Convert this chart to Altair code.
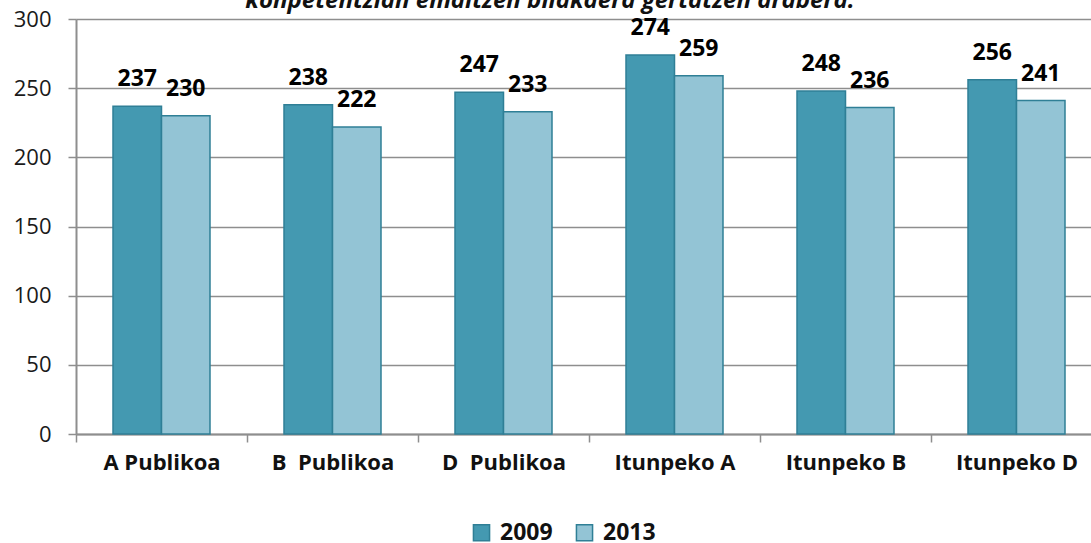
import altair as alt
import pandas as pd

# Mean scores per school model, 2009 vs 2013
categories = ["A Publikoa", "B\u00a0 Publikoa", "D\u00a0 Publikoa",
              "Itunpeko A", "Itunpeko B", "Itunpeko D"]
years = ["2009", "2013"]
values_2009 = [237, 238, 247, 274, 248, 256]
values_2013 = [230, 222, 233, 259, 236, 241]
y_ticks = [0, 50, 100, 150, 200, 250, 300]
year_colors = ["#4499b1", "#93c4d5"]
heading = "konpetentzian emaitzen bilakaera gertatzen arabera."

rows = []
for cat, v09, v13 in zip(categories, values_2009, values_2013):
    rows.append({"eredua": cat, "urtea": years[0], "balioa": v09})
    rows.append({"eredua": cat, "urtea": years[1], "balioa": v13})
df = pd.DataFrame(rows)

FONT = "Open Sans"
GRID = "#8e8e8e"

x_enc = alt.X(
    "eredua:N",
    sort=categories,
    title=None,
    scale=alt.Scale(range=[0, 1026], paddingInner=0, paddingOuter=0),
    axis=alt.Axis(
        tickBand="extent",
        labelAngle=0,
        labelFont=FONT,
        labelFontSize=22,
        labelFontWeight="bold",
        labelColor="#111111",
        labelPadding=10,
        tickSize=8,
        tickColor=GRID,
        tickWidth=1.5,
        domainColor=GRID,
        domainWidth=2,
        grid=False,
    ),
)
xoff_enc = alt.XOffset("urtea:N", sort=years,
                       scale=alt.Scale(paddingOuter=0.763, paddingInner=0))
y_enc = alt.Y(
    "balioa:Q",
    title=None,
    scale=alt.Scale(domain=[0, 300], nice=False),
    axis=alt.Axis(
        values=y_ticks,
        labelFont=FONT,
        labelFontSize=22,
        labelColor="#1a1a1a",
        labelPadding=17,
        tickSize=8,
        tickColor=GRID,
        tickWidth=1.5,
        domainColor=GRID,
        domainWidth=2,
        gridColor=GRID,
        gridWidth=1.5,
    ),
)

bars = alt.Chart(df).mark_bar(stroke="#2f7f96", strokeWidth=1.5).encode(
    x=x_enc,
    xOffset=xoff_enc,
    y=y_enc,
    color=alt.Color(
        "urtea:N",
        sort=years,
        scale=alt.Scale(domain=years, range=year_colors),
        legend=alt.Legend(
            title=None,
            orient="none",
            legendX=394,
            legendY=502,
            direction="horizontal",
            symbolType="square",
            symbolSize=260,
            symbolStrokeColor="#2f7f96",
            symbolStrokeWidth=1.5,
            labelFont=FONT,
            labelFontSize=23,
            labelFontWeight="bold",
            labelColor="#111111",
            labelOffset=7,
            columnPadding=20,
        ),
    ),
)

labels = alt.Chart(df).mark_text(
    baseline="alphabetic",
    dy=-20,
    font=FONT,
    fontSize=23,
    fontWeight="bold",
    color="#000000",
).encode(
    x=alt.X("eredua:N", sort=categories),
    xOffset=alt.XOffset("urtea:N", sort=years),
    y="balioa:Q",
    text="balioa:Q",
)

# Chart heading sitting above the plot frame (its upper part runs off the page)
head = alt.Chart(pd.DataFrame({"t": [heading]})).mark_text(
    baseline="alphabetic",
    align="center",
    font=FONT,
    fontSize=24,
    fontWeight="bold",
    fontStyle="italic",
    color="#111111",
).encode(text="t:N", x=alt.value(474), y=alt.value(-11))

chart = (
    alt.layer(bars, labels, head)
    .properties(
        width=1015,
        height=415,
        padding={"left": 76, "top": 19, "right": 0, "bottom": 109},
        autosize=alt.AutoSizeParams(type="none"),
    )
    .configure_view(fill="#e9f0f4", stroke=None)
    .configure(background="#ffffff")
)

chart.save("out.html", embed_options={"renderer": "svg", "actions": False})
